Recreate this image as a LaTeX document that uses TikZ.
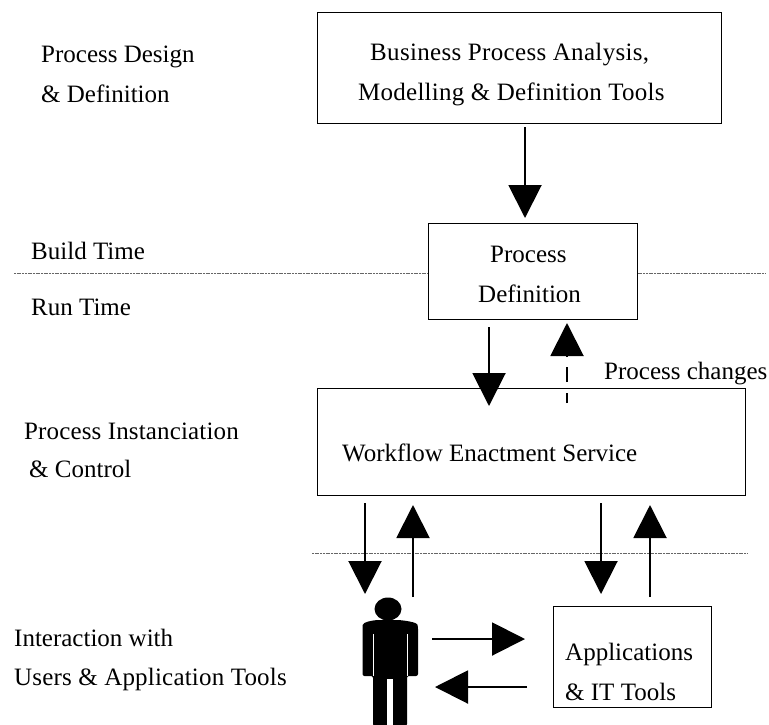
\documentclass[tikz,border=0pt]{standalone}
\usepackage{fontspec}
\setmainfont{Liberation Serif}
\usetikzlibrary{arrows.meta}
\tikzset{
  x=1pt,y=-1pt,
  boxnode/.style={draw=black,line width=1.3pt,fill=white,inner sep=0pt,anchor=north west},
  lbl/.style={anchor=base west,inner sep=0pt,font=\fontsize{25}{30}\selectfont},
  bigarrow/.style={line width=2pt,-{Triangle[length=33pt,width=33pt]}},
  septline/.style={line width=0.8pt,black!60,dash pattern=on 2pt off 0.7pt},
}
\begin{document}
\begin{tikzpicture}
\useasboundingbox (0,0) rectangle (769,724);
\fill[white] (0,0) rectangle (769,724);
% separators
\coordinate (s1a) at (14,273); \coordinate (s1b) at (765,273);
\coordinate (s2a) at (312,553); \coordinate (s2b) at (748,553);
\draw[septline] (s1a) -- (s1b);
\draw[septline] (s2a) -- (s2b);
% boxes
\node[boxnode,minimum width=404pt,minimum height=111pt] (bpa) at (317,12) {};
\node[boxnode,minimum width=209pt,minimum height=96pt] (pd) at (428,223) {};
\node[boxnode,minimum width=428pt,minimum height=107pt] (wes) at (317,388) {};
\node[boxnode,minimum width=158pt,minimum height=101pt] (app) at (553,606) {};
% box texts
\node[lbl] (t1) at (370,60) {\addfontfeature{LetterSpace=1.3}Business Process Analysis,};
\node[lbl] (t2) at (358,100) {\addfontfeature{LetterSpace=1.0}Modelling \& Definition Tools};
\node[lbl] (t3) at (490,262) {Process};
\node[lbl] (t4) at (478,302) {Definition};
\node[lbl] (t5) at (342,461) {Workflow Enactment Service};
\node[lbl] (t6) at (565,660) {Applications};
\node[lbl] (t7) at (565,700) {\& IT Tools};
% side labels
\node[lbl] (l1) at (41,62) {Process Design};
\node[lbl] (l2) at (41,102) {\& Definition};
\node[lbl] (l3) at (31,259) {Build Time};
\node[lbl] (l4) at (31,315) {Run Time};
\node[lbl] (l5) at (24,439) {\addfontfeature{LetterSpace=0.6}Process Instanciation};
\node[lbl] (l6) at (29,477) {\& Control};
\node[lbl] (l7) at (14,646) {Interaction with};
\node[lbl] (l8) at (14,685) {\addfontfeature{LetterSpace=0.8}Users \& Application Tools};
\node[lbl] (l9) at (604,379) {Process changes};
% arrows
\coordinate (a1s) at (525,127); \coordinate (a1e) at (525,218);
\draw[bigarrow] (a1s) -- (a1e);
\coordinate (a2s) at (489,327); \coordinate (a2e) at (489,406);
\draw[bigarrow] (a2s) -- (a2e);
\coordinate (a3s) at (566.5,403); \coordinate (a3e) at (567,323);
\draw[line width=2pt] (a3s) -- (566.5,393) (566.5,382) -- (566.5,367);
\draw[-{Triangle[length=33pt,width=33pt]},line width=2pt] (567,357) -- (a3e);
\coordinate (a4s) at (365,503); \coordinate (a4e) at (365,594);
\draw[bigarrow] (a4s) -- (a4e);
\coordinate (a5s) at (413,597); \coordinate (a5e) at (413,505);
\draw[bigarrow] (a5s) -- (a5e);
\coordinate (a6s) at (601,503); \coordinate (a6e) at (601,594);
\draw[bigarrow] (a6s) -- (a6e);
\coordinate (a7s) at (650,597); \coordinate (a7e) at (650,505);
\draw[bigarrow] (a7s) -- (a7e);
\coordinate (a8s) at (432,639); \coordinate (a8e) at (525,639);
\draw[bigarrow] (a8s) -- (a8e);
\coordinate (a9s) at (527,687); \coordinate (a9e) at (435,687);
\draw[bigarrow] (a9s) -- (a9e);
% person
\fill (388,609) ellipse [x radius=13.5pt,y radius=11.5pt];
\fill[rounded corners=2pt] (373,676) -- (362.5,676) -- (362.5,627)
  .. controls (363,622) and (372,620.5) .. (378,620) -- (398,620)
  .. controls (404,620.5) and (417,622) .. (418,627)
  -- (418,676) -- (407,676) -- (407,726) -- (373,726) -- cycle;
\fill[white] (387,678.5) rectangle (393,726);
\draw[white,line width=0.6pt] (373.5,634) -- (373.5,676);
\draw[white,line width=0.6pt] (407.3,634) -- (407.3,676);
\end{tikzpicture}
\end{document}
